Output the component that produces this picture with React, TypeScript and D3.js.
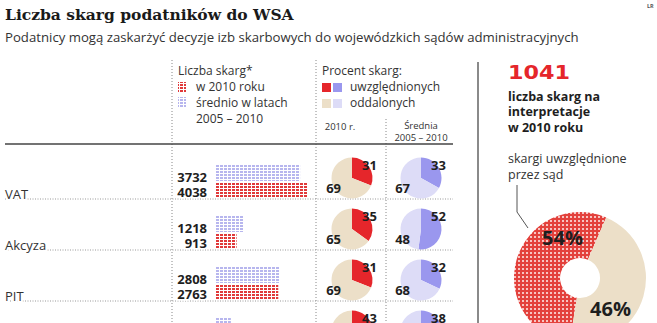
import * as d3 from "d3";

// rows of the table
const categories = ["VAT", "Akcyza", "PIT", "CIT"];
const count2010 = [4038, 913, 2763, 640];
const countAvg = [3732, 1218, 2808, 660];
const upheld2010 = [31, 35, 31, 43];
const upheldAvg = [33, 52, 32, 38];

// right panel
const interpTotal = 1041;
const interpShares = [54, 46]; // uwzględnione, oddalone

const W = 657;
const H = 323;
const RED = "#e5262b";
const PURPLE = "#9a97ee";
const BEIGE = "#ecdfc8";
const LAVENDER = "#dddcf7";
const SANS = "'Open Sans', sans-serif";
const INK = "#1e1e1e";

const x = d3.scaleLinear().domain([0, 4038]).range([0, 91]);
const rowSep = d3.scaleLinear().domain([0, 1]).range([199, 250]);
const BAR_X = 216;
const PIE2010_X = 352;
const PIEAVG_X = 421;

const pieGen = d3.pie<number>().sort(null).value((d) => d);
const smallArc = d3.arc<d3.PieArcDatum<number>>().innerRadius(0).outerRadius(20.5);

const donutStart = (-171 * Math.PI) / 180;
const donutPie = d3
  .pie<number>()
  .sort(null)
  .value((d) => d)
  .startAngle(donutStart)
  .endAngle(donutStart + 2 * Math.PI);
const donutArc = d3.arc<d3.PieArcDatum<number>>().innerRadius(20).outerRadius(66);

const SmallPie = ({ cx, cy, value, colors }: { cx: number; cy: number; value: number; colors: string[] }) => {
  const arcs = pieGen([value, 100 - value]);
  return (
    <g>
      <g transform={`translate(${cx},${cy})`}>
        {arcs.map((a, i) => (
          <path key={i} d={smallArc(a) || ""} fill={colors[i]} />
        ))}
      </g>
      <text x={cx + 10} y={cy - 8} fontFamily={SANS} fontWeight={700} fontSize={13} fill={INK}>
        {value}
      </text>
      <text x={cx - 11} y={cy + 15} textAnchor="end" fontFamily={SANS} fontWeight={700} fontSize={13} fill={INK}>
        {100 - value}
      </text>
    </g>
  );
};

export default function App() {
  const donut = donutPie(interpShares);
  return (
    <svg
      width={W}
      height={H}
      viewBox={`0 0 ${W} ${H}`}
      style={{ position: "absolute", left: 0, top: 0, background: "#fff" }}
    >
      <defs>
        <pattern id="redBar" patternUnits="userSpaceOnUse" width={4} height={3}>
          <rect width={4} height={3} fill="#fff" />
          <rect width={3} height={2} fill="#e0393a" />
        </pattern>
        <pattern id="blueBar" patternUnits="userSpaceOnUse" width={4} height={3}>
          <rect width={4} height={3} fill="#fff" />
          <rect width={3} height={2} fill="#b7b6ee" />
        </pattern>
        <pattern id="redPlaid" patternUnits="userSpaceOnUse" width={4} height={4}>
          <rect width={4} height={4} fill="#f7c4c1" />
          <rect width={4} height={2} fill="#e3413c" />
          <rect width={2} height={4} fill="#e3413c" />
        </pattern>
      </defs>

      {/* title */}
      <text x={5} y={20} fontFamily="'DejaVu Serif', serif" fontWeight={700} fontSize={15.5} fill="#1a1a1a">
        Liczba skarg podatników do WSA
      </text>
      <text x={5} y={42} fontFamily={SANS} fontSize={13.2} fill="#333">
        Podatnicy mogą zaskarżyć decyzje izb skarbowych do wojewódzkich sądów administracyjnych
      </text>
      <text x={647} y={8} fontFamily={SANS} fontSize={5.5} fontWeight={700} fill="#555">
        LR
      </text>

      {/* grid */}
      <line x1={172} x2={172} y1={60} y2={H} stroke="#888" strokeDasharray="1,2" />
      <line x1={316} x2={316} y1={60} y2={H} stroke="#888" strokeDasharray="1,2" />
      <line x1={386} x2={386} y1={119} y2={H} stroke="#888" strokeDasharray="1,2" />
      <line x1={5} x2={453} y1={144} y2={144} stroke="#444" strokeWidth={1.5} />
      <line x1={478} x2={478} y1={62} y2={H} stroke="#8a8a8a" strokeWidth={2} />

      {/* legend: counts */}
      <text x={178} y={75} fontFamily={SANS} fontSize={12} fill="#333">
        Liczba skarg*
      </text>
      <rect x={178} y={82} width={8} height={10} fill="url(#redBar)" />
      <text x={196} y={91} fontFamily={SANS} fontSize={12} fill="#333">
        w 2010 roku
      </text>
      <rect x={178} y={97} width={8} height={10} fill="url(#blueBar)" />
      <text x={196} y={107} fontFamily={SANS} fontSize={12} fill="#333">
        średnio w latach
      </text>
      <text x={196} y={123} fontFamily={SANS} fontSize={12} fill="#333">
        2005 – 2010
      </text>

      {/* legend: percent */}
      <text x={322} y={75} fontFamily={SANS} fontSize={12} fill="#333">
        Procent skarg:
      </text>
      <rect x={322} y={83} width={9} height={9} fill={RED} />
      <rect x={333} y={83} width={9} height={9} fill={PURPLE} />
      <text x={350} y={91} fontFamily={SANS} fontSize={12} fill="#333">
        uwzględnionych
      </text>
      <rect x={322} y={99} width={9} height={9} fill={BEIGE} />
      <rect x={333} y={99} width={9} height={9} fill={LAVENDER} />
      <text x={350} y={107} fontFamily={SANS} fontSize={12} fill="#333">
        oddalonych
      </text>
      <text x={340} y={130} textAnchor="middle" fontFamily={SANS} fontSize={9.5} fill="#333">
        2010 r.
      </text>
      <text x={421} y={129} textAnchor="middle" fontFamily={SANS} fontSize={9.5} fill="#333">
        Średnia
      </text>
      <text x={421} y={141} textAnchor="middle" fontFamily={SANS} fontSize={9.5} fill="#333">
        2005 – 2010
      </text>

      {/* rows */}
      {categories.map((c, i) => {
        const sep = rowSep(i);
        return (
          <g key={c}>
            <line x1={5} x2={453} y1={sep} y2={sep} stroke="#999" strokeDasharray="1,1.5" />
            <text
              x={5}
              y={sep}
              fontFamily={SANS}
              fontSize={13}
              fill="#333"
              stroke="#fff"
              strokeWidth={4}
              paintOrder="stroke"
            >
              {c}
            </text>
            <rect x={BAR_X} y={sep - 35} width={x(countAvg[i])} height={17} fill="url(#blueBar)" />
            <rect x={BAR_X} y={sep - 16} width={x(count2010[i])} height={15} fill="url(#redBar)" />
            <text
              x={207}
              y={sep - 17}
              textAnchor="end"
              fontFamily={SANS}
              fontWeight={700}
              fontSize={13}
              fill={INK}
              stroke="#fff"
              strokeWidth={3}
              paintOrder="stroke"
            >
              {countAvg[i]}
            </text>
            <text
              x={207}
              y={sep - 2}
              textAnchor="end"
              fontFamily={SANS}
              fontWeight={700}
              fontSize={13}
              fill={INK}
              stroke="#fff"
              strokeWidth={3}
              paintOrder="stroke"
            >
              {count2010[i]}
            </text>
            <SmallPie cx={PIE2010_X} cy={sep - 21} value={upheld2010[i]} colors={[RED, BEIGE]} />
            <SmallPie cx={PIEAVG_X} cy={sep - 21} value={upheldAvg[i]} colors={[PURPLE, LAVENDER]} />
          </g>
        );
      })}

      {/* right panel */}
      <text
        x={508}
        y={79}
        fontFamily="'DejaVu Sans', sans-serif"
        fontWeight={700}
        fontSize={20}
        fill={RED}
        textLength={62}
        lengthAdjust="spacingAndGlyphs"
      >
        {interpTotal}
      </text>
      <text x={508} y={101} fontFamily={SANS} fontWeight={700} fontSize={12.5} fill={INK}>
        liczba skarg na
      </text>
      <text x={508} y={116} fontFamily={SANS} fontWeight={700} fontSize={12.5} fill={INK}>
        interpretacje
      </text>
      <text x={508} y={132} fontFamily={SANS} fontWeight={700} fontSize={12.5} fill={INK}>
        w 2010 roku
      </text>
      <text x={508} y={163} fontFamily={SANS} fontSize={12.5} fill="#333">
        skargi uwzględnione
      </text>
      <text x={508} y={179} fontFamily={SANS} fontSize={12.5} fill="#333">
        przez sąd
      </text>
      <path d="M517,185 L517,212 L528,228" fill="none" stroke="#555" strokeWidth={1} />
      <g transform="translate(580,278)">
        {donut.map((a, i) => (
          <path key={i} d={donutArc(a) || ""} fill={i === 0 ? "url(#redPlaid)" : BEIGE} />
        ))}
      </g>
      <text x={542} y={245} fontFamily={SANS} fontWeight={700} fontSize={20} fill={INK}>
        {interpShares[0]}%
      </text>
      <text x={590} y={316} fontFamily={SANS} fontWeight={700} fontSize={20} fill={INK}>
        {interpShares[1]}%
      </text>
    </svg>
  );
}
